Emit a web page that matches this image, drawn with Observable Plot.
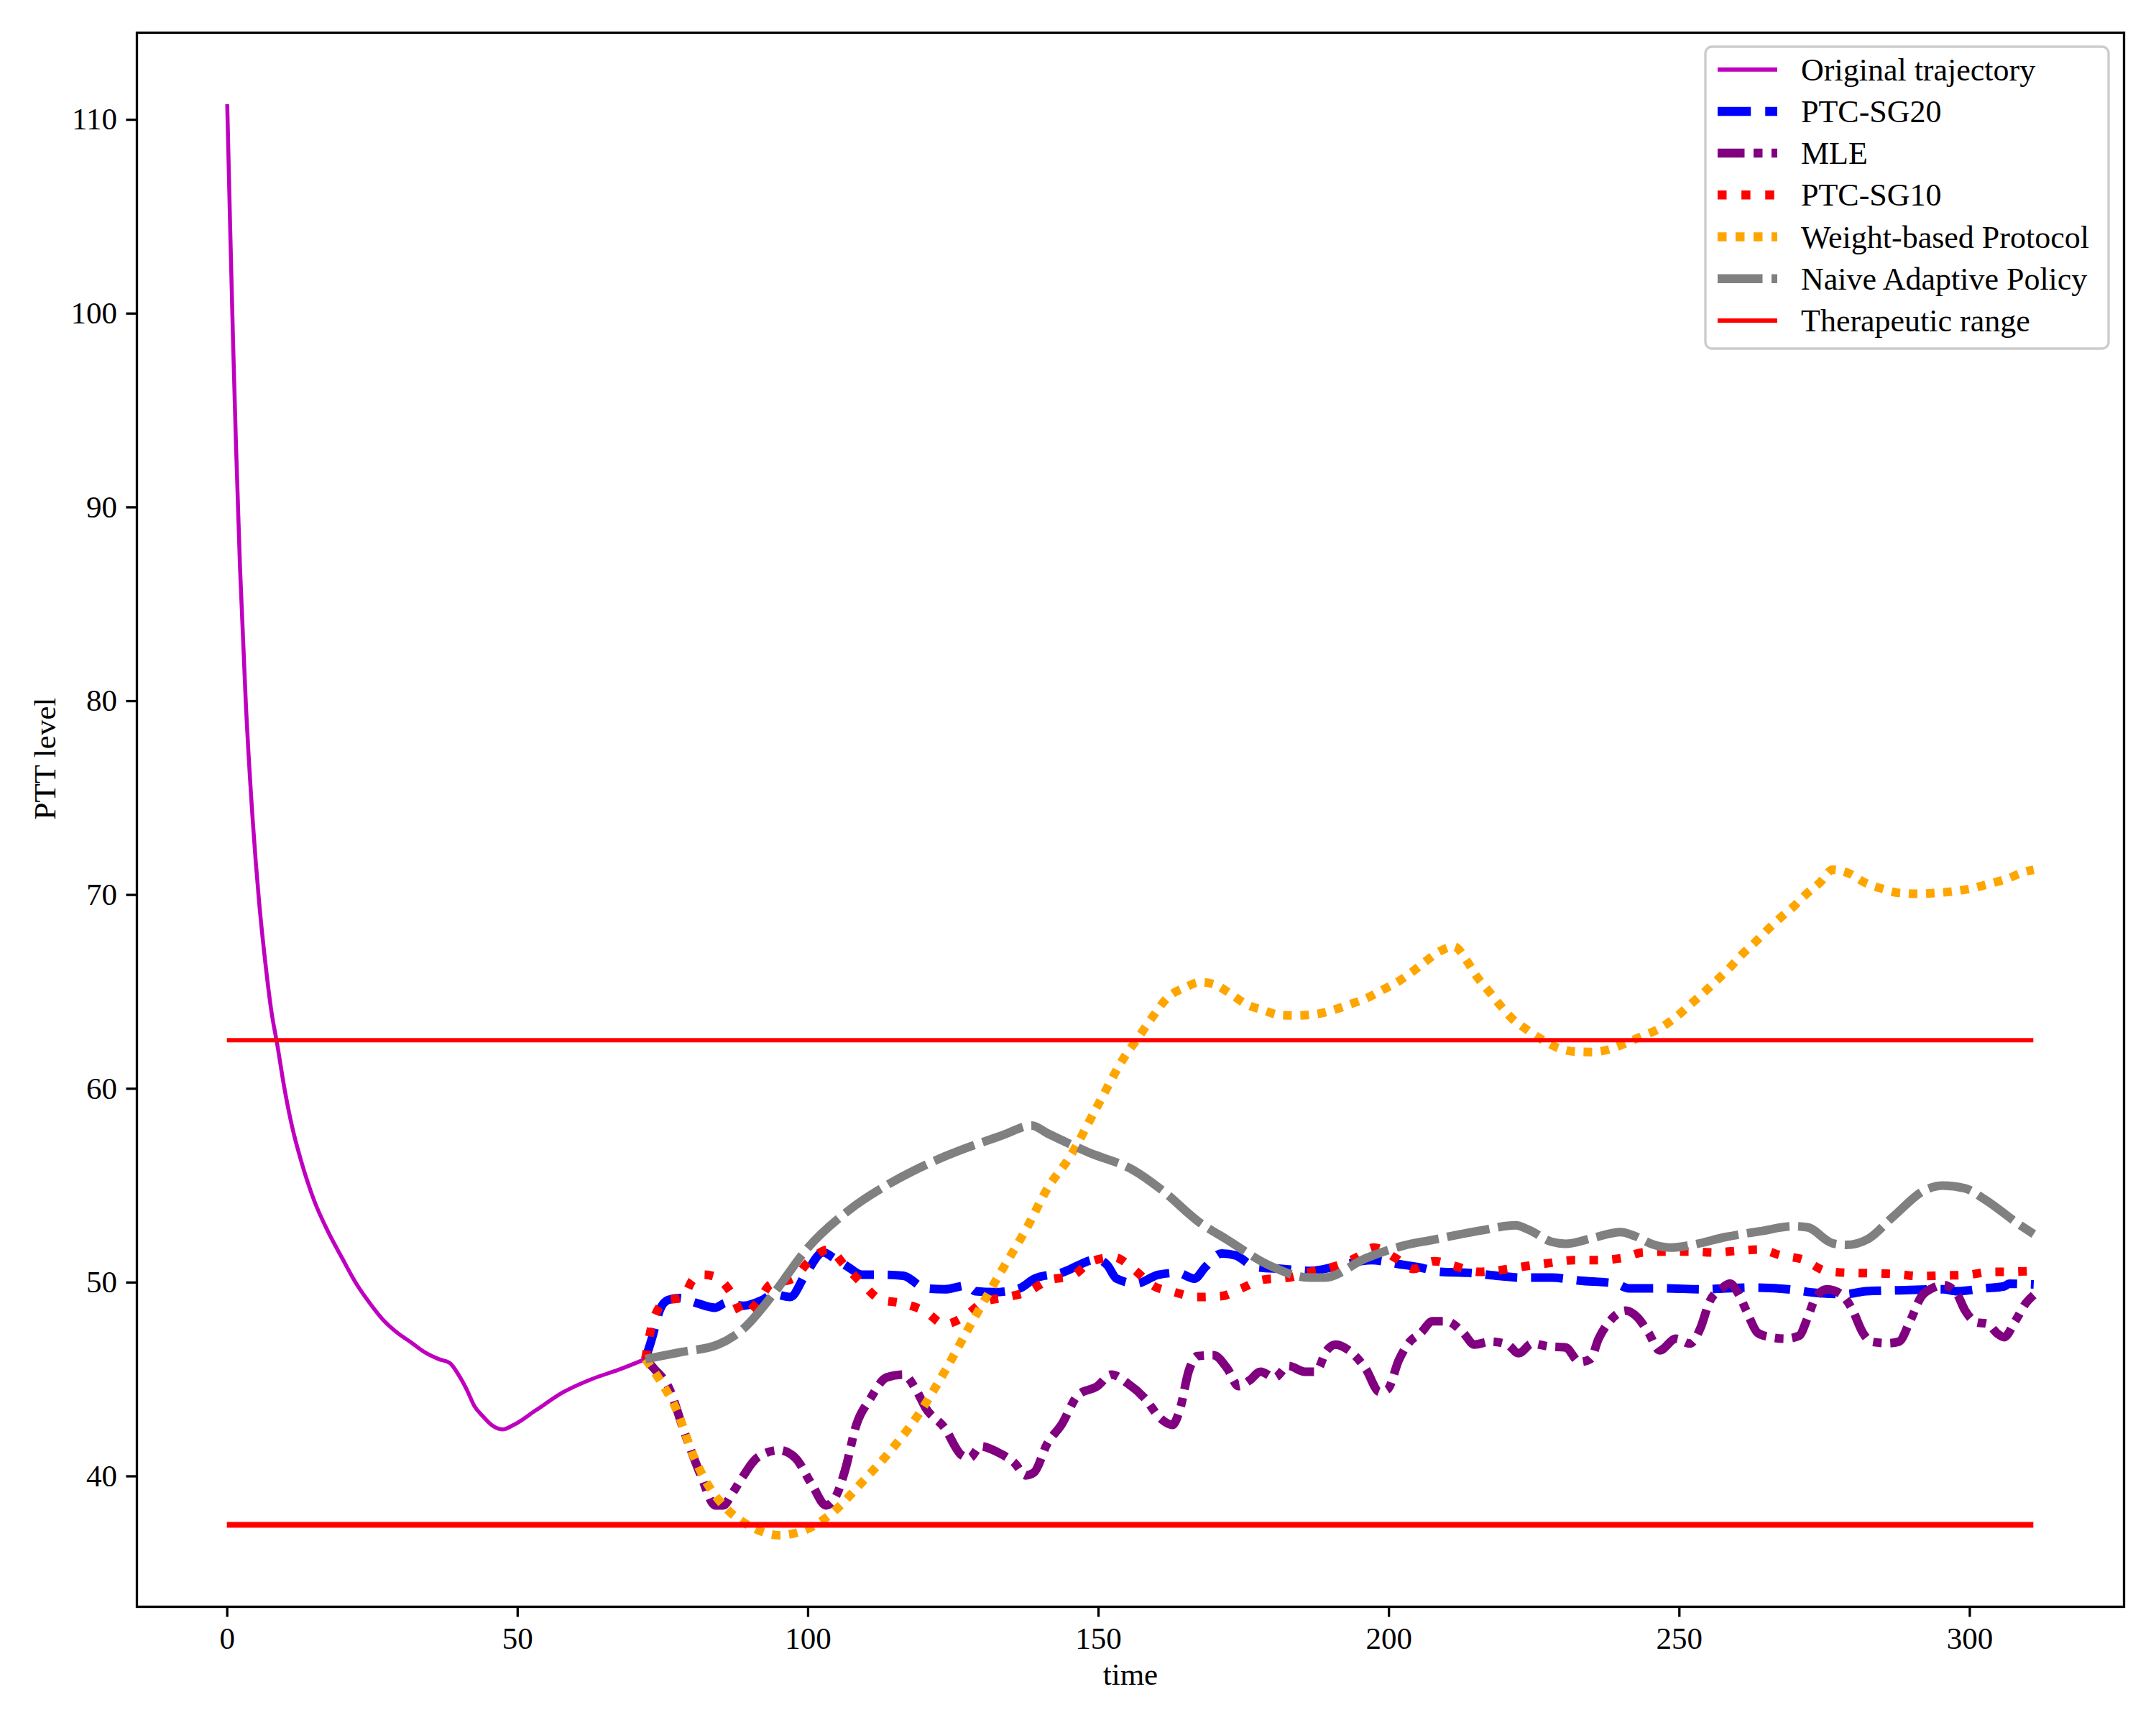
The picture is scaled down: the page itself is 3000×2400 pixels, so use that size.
<!DOCTYPE html>
<html>
<head>
<meta charset="utf-8">
<script src="https://cdn.jsdelivr.net/npm/d3@7"></script>
<script src="https://cdn.jsdelivr.net/npm/@observablehq/plot@0.6"></script>
<style>
  html, body { margin: 0; padding: 0; background: #ffffff; }
  svg { display: block; }
</style>
</head>
<body>
<div id="chart"></div>
<script>
// ---------- data (time, PTT level) ----------
const xTicks = [0, 50, 100, 150, 200, 250, 300];
const yTicks = [40, 50, 60, 70, 80, 90, 100, 110];
const seriesNames = ["Original trajectory", "PTC-SG20", "MLE", "PTC-SG10",
  "Weight-based Protocol", "Naive Adaptive Policy", "Therapeutic range"];
const therapeuticRange = [37.5, 62.5];
const rangeSpan = [0, 311];

const original = [[0,110.8],[0.5,104.5],[1.0,98.6],[1.5,93.3],[2.2,86.9],[3.2,79.9],[4.4,73.8],
  [5.5,69.6],[6.6,66.4],[7.6,64.0],[8.6,62.3],[9.8,60.1],[11.2,58.0],[12.6,56.4],[15,54.2],
  [17.4,52.6],[19.8,51.25],[22.1,50.0],[24.5,48.95],[26.9,48.05],[29.3,47.4],[31.7,46.9],
  [34,46.4],[36.4,46.05],[38.3,45.85],[39.8,45.25],[41.2,44.5],[42.6,43.6],[44,43.1],
  [45.5,42.65],[47.4,42.42],[49.3,42.65],[53.1,43.4],[57.9,44.35],[62.6,45.0],[67.4,45.5],[72,46.05]];

const sg20 = [[72,46.05],[73.1,47.1],[74.5,48.6],[75.9,49.1],[77.8,49.2],[80.7,48.95],[84,48.7],
  [85.9,48.95],[88.8,48.8],[92.1,49.1],[94,49.4],[96.9,49.25],[99.7,50.5],[102.6,51.55],[104.5,51.25],
  [106.9,50.8],[109.3,50.4],[113.1,50.4],[116.4,50.35],[120.2,49.7],[123.5,49.65],[127.4,49.85],
  [128.8,49.55],[132.1,49.5],[136.4,49.7],[139,50.2],[143.6,50.5],[149.8,51.2],[151.5,50.9],
  [153.1,50.2],[156.5,49.95],[160.3,50.4],[163.6,50.5],[166.5,50.2],[168.4,50.8],[171.2,51.5],
  [173.6,51.4],[177,50.8],[181.7,50.7],[186.5,50.6],[191.2,50.85],[197,51.15],[201.7,50.95],
  [205,50.8],[208.9,50.55],[213.7,50.5],[218.5,50.35],[223.2,50.25],[228,50.25],[232.8,50.1],
  [239,49.95],[241.3,49.7],[247,49.7],[254.2,49.65],[258,49.7],[263,49.74],[269.2,49.64],
  [272.5,49.5],[278.7,49.4],[282.1,49.55],[287.8,49.6],[295.4,49.65],[297.8,49.55],[302.5,49.7],
  [305.9,49.8],[306.8,49.94],[311,49.9]];

const mle = [[72,46.05],[73.5,45.55],[75.9,44.65],[78.8,42.2],[81.6,40.0],[84,38.5],[85.4,38.5],
  [86.9,39.1],[88.8,40.0],[91.2,40.95],[95,41.35],[97.8,40.95],[100.7,39.55],[103.1,38.5],[105,39.1],
  [106.4,40.35],[108.3,42.65],[110.7,44.0],[113.5,45.1],[116.4,45.25],[118.8,44.35],[120.2,43.55],
  [123.5,42.5],[126.4,41.1],[127.8,40.95],[129.7,41.55],[132.6,41.25],[135.5,40.7],[137.5,40.05],
  [138.9,40.2],[141.2,41.7],[143.6,42.65],[146.5,44.2],[149.8,44.65],[152.2,45.25],[155,44.8],
  [157.9,44.05],[160.8,42.95],[162.7,42.65],[164.1,43.55],[165.5,45.4],[167,46.2],[169.8,46.25],
  [172.2,45.55],[174.1,44.65],[176,44.95],[177.9,45.4],[180.3,45.1],[182.7,45.7],[185.5,45.4],
  [187.4,45.4],[189.3,46.5],[190.8,46.8],[193.1,46.5],[196,45.55],[198.4,44.35],[199.8,44.5],
  [201.7,46.0],[203.6,46.95],[205.5,47.4],[207.5,48.0],[209.9,48.0],[212.8,47.4],[214.7,46.8],
  [217.5,46.95],[220.4,46.8],[222.3,46.35],[224.7,46.85],[227.5,46.7],[230.4,46.65],[232.8,45.9],
  [234.7,46.05],[236.1,47.1],[238,48.0],[240.8,48.55],[242.8,48.2],[244.7,47.4],[246.6,46.5],
  [249.4,47.1],[251.8,46.85],[253.7,47.7],[255.1,48.95],[257.3,49.7],[258.7,49.95],[260.2,49.4],
  [261.6,48.5],[263.5,47.4],[265.4,47.2],[268.3,47.1],[270.6,47.25],[272.1,48.2],[273.5,49.25],
  [275.4,49.65],[277.8,49.4],[279.7,48.65],[281.6,47.4],[283,46.95],[285.9,46.87],[287.8,46.95],
  [289.7,48.0],[291.6,49.25],[293.5,49.7],[295.4,49.87],[297.8,49.4],[299.2,48.55],[301.1,47.95],
  [303,47.87],[304.9,47.33],[305.9,47.18],[307.8,48.0],[309.7,48.95],[311,49.35]];

const sg10 = [[72,46.05],[73.5,48.2],[75.9,49.1],[78.3,49.2],[80.2,50.15],[82,50.4],[84,50.3],
  [86.9,49.4],[88.8,48.35],[91.6,49.1],[93.5,49.9],[97.4,50.2],[100.2,51.1],[103.5,51.7],[106.4,50.85],
  [109.3,49.95],[112.6,49.1],[115.9,48.95],[120.2,48.5],[123.5,47.85],[127.4,48.35],[130.2,49.0],
  [134.3,49.25],[138,49.55],[141.2,50.1],[145.5,50.35],[148.9,51.1],[152.7,51.3],[156,50.7],
  [159.3,49.85],[163.1,49.5],[167,49.25],[171.2,49.3],[174.6,49.7],[178.4,50.15],[182.7,50.25],
  [186.5,50.55],[190.3,50.8],[194.1,51.25],[197.4,51.8],[201.2,51.25],[204.2,50.7],[207.8,51.1],
  [211.3,50.85],[215.6,50.55],[219.4,50.65],[223.7,50.85],[227.5,51.0],[231.8,51.15],[235.6,51.15],
  [239.9,51.25],[243.7,51.55],[248,51.6],[251.8,51.6],[256.1,51.55],[259.8,51.63],[263.8,51.7],
  [267.5,51.4],[271.4,51.17],[275.2,50.6],[279.2,50.5],[283,50.48],[287.3,50.43],[291.3,50.33],
  [295.4,50.36],[299.7,50.4],[303.5,50.55],[307.5,50.56],[311,50.6]];

const weightBased = [[72,46.05],[74.5,44.95],[77.4,43.4],[80.2,41.1],[83.1,39.4],[85.9,38.35],
  [90.2,37.4],[95,36.96],[97.4,37.04],[100.7,37.4],[104.5,38.2],[109.3,39.7],[114,41.25],[118.8,43.1],
  [123.5,45.4],[128.3,48.0],[133.1,50.5],[137.8,52.9],[141.1,54.8],[145.1,56.5],[149.8,59.1],
  [154.6,61.7],[156.5,62.5],[159.3,63.7],[161.7,64.65],[165.1,65.25],[167.4,65.5],[169.8,65.4],
  [172.7,64.9],[175.5,64.35],[178.4,64.05],[181.3,63.8],[184.1,63.78],[187.4,63.85],[190.3,64.05],
  [193.2,64.35],[196,64.65],[198.9,65.1],[201.8,65.57],[204,66.03],[206.3,66.57],[208.8,67.1],
  [211.2,67.34],[213.4,66.6],[215.1,65.8],[217,65.1],[218.9,64.4],[221.1,63.65],[223.5,63.1],
  [226.1,62.58],[229,62.12],[231.8,61.92],[234.9,61.89],[238,62.04],[240.8,62.35],[243.7,62.73],
  [246.6,63.11],[249.2,63.65],[251.6,64.27],[253.9,64.88],[256.1,65.5],[258.5,66.19],[260.6,66.88],
  [262.8,67.49],[265.1,68.18],[267.3,68.8],[269.7,69.41],[271.8,70.03],[274.2,70.64],[276.4,71.3],
  [279.3,71.1],[281.9,70.64],[284.8,70.33],[287.9,70.1],[291,70.06],[294,70.1],[297.1,70.18],
  [300.2,70.33],[303.3,70.57],[306.4,70.83],[309.3,71.18],[311,71.3]];

const naive = [[72,46.05],[78,46.4],[84.5,46.8],[88.8,47.6],[94,49.4],[99.7,51.7],[106.9,53.7],
  [114,55.1],[123.5,56.5],[133.5,57.6],[138.5,58.1],[141.2,57.7],[148.4,56.7],[156,55.8],[160.8,54.8],
  [167.4,53.1],[172.2,52.2],[179.3,50.9],[186.5,50.25],[188.9,50.25],[196,51.25],[202.5,51.9],
  [207.5,52.2],[216.1,52.7],[221.8,52.95],[224.2,52.7],[228,52.1],[230.4,52.0],[235.1,52.3],
  [239.9,52.6],[242.3,52.4],[245.6,51.95],[248.5,51.8],[252.3,51.95],[258,52.35],[264,52.65],
  [269.5,52.9],[272,52.85],[276.4,52.02],[278.7,51.94],[282.5,52.25],[286.8,53.4],[292.5,54.8],
  [295.4,55.0],[299.2,54.86],[302.5,54.3],[308.7,52.95],[311,52.5]];

// ---------- styling ----------
const LW = 12;
const series = [
  {name: seriesNames[0], data: original, color: "#bf00bf", width: 5.5, dash: null},
  {name: seriesNames[1], data: sg20, color: "#0000ff", width: LW, dash: [3.7*LW, 1.6*LW]},
  {name: seriesNames[2], data: mle, color: "#800080", width: LW, dash: [3*LW, LW, LW, LW]},
  {name: seriesNames[3], data: sg10, color: "#ff0000", width: LW, dash: [LW, 1.65*LW]},
  {name: seriesNames[4], data: weightBased, color: "#ffa500", width: LW, dash: [LW, LW]},
  {name: seriesNames[5], data: naive, color: "#808080", width: LW, dash: [5*LW, LW]}
];
const rangeColor = "#ff0000";

// matplotlib-like 5% margins around the data
const allPts = series.flatMap(s => s.data);
const [x0, x1] = d3.extent([...allPts.map(d => d[0]), ...rangeSpan]);
const [y0, y1] = d3.extent([...allPts.map(d => d[1]), ...therapeuticRange]);
const xPad = (x1 - x0) * 0.05, yPad = (y1 - y0) * 0.05;

const FONT = "'Liberation Serif', 'DejaVu Serif', serif";
const W = 3000, H = 2400;
const mL = 190, mR = 45, mT = 45, mB = 165;

const chart = Plot.plot({
  width: W, height: H,
  marginLeft: mL, marginRight: mR, marginTop: mT, marginBottom: mB,
  x: {domain: [x0 - xPad, x1 + xPad]},
  y: {domain: [y0 - yPad, y1 + yPad]},
  style: {fontFamily: FONT, fontSize: "43px", background: "#ffffff", color: "#000000"},
  marks: [
    ...series.map(s => Plot.line(s.data, {
      x: d => d[0], y: d => d[1],
      stroke: s.color, strokeWidth: s.width,
      strokeDasharray: s.dash ? s.dash.join(",") : undefined,
      strokeLinecap: "butt", strokeLinejoin: "round",
      curve: "monotone-x"
    })),
    Plot.ruleY([therapeuticRange[1]], {x1: rangeSpan[0], x2: rangeSpan[1], stroke: rangeColor, strokeWidth: 6}),
    Plot.ruleY([therapeuticRange[0]], {x1: rangeSpan[0], x2: rangeSpan[1], stroke: rangeColor, strokeWidth: 8}),
    Plot.axisX({ticks: xTicks, tickSize: 14.6, tickPadding: 13, strokeWidth: 3.3, fontSize: 43, label: null}),
    Plot.axisY({ticks: yTicks, tickSize: 14.6, tickPadding: 13, strokeWidth: 3.3, fontSize: 43, label: null}),
    Plot.text(["time"], {frameAnchor: "bottom", dy: 108, fontSize: 43}),
    Plot.text(["PTT level"], {frameAnchor: "left", dx: -127, rotate: -90, fontSize: 43}),
    Plot.frame({stroke: "#000000", strokeWidth: 3.3})
  ]
});

// ---------- legend (inside the axes, upper right) ----------
const svg = d3.select(chart);
const lg = svg.append("g")
  .attr("font-family", FONT).attr("font-size", 44)
  .attr("text-anchor", "start");
const box = {x: 2373, y: 65, w: 561, h: 420};
lg.append("rect")
  .attr("x", box.x).attr("y", box.y).attr("width", box.w).attr("height", box.h)
  .attr("rx", 9).attr("ry", 9)
  .attr("fill", "#ffffff").attr("fill-opacity", 0.8)
  .attr("stroke", "#cccccc").attr("stroke-width", 3.3);
const legendItems = [
  ...series.map(s => ({name: s.name, color: s.color, width: s.width === LW ? 12.5 : 6, dash: s.dash})),
  {name: seriesNames[6], color: rangeColor, width: 6, dash: null}
];
const rowStep = 58.2, row0 = 96.7, hx0 = 2390, hx1 = 2473, tx = 2506;
legendItems.forEach((it, i) => {
  const cy = row0 + i * rowStep;
  lg.append("line")
    .attr("x1", hx0).attr("x2", hx1).attr("y1", cy).attr("y2", cy)
    .attr("stroke", it.color).attr("stroke-width", it.width)
    .attr("stroke-linecap", "butt")
    .attr("stroke-dasharray", it.dash ? it.dash.map(v => v * 12.5 / LW).join(",") : null);
  lg.append("text")
    .attr("x", tx).attr("y", cy + 15)
    .attr("text-anchor", "start")
    .attr("fill", "#000000")
    .text(it.name);
});

document.getElementById("chart").appendChild(chart);
</script>
</body>
</html>
